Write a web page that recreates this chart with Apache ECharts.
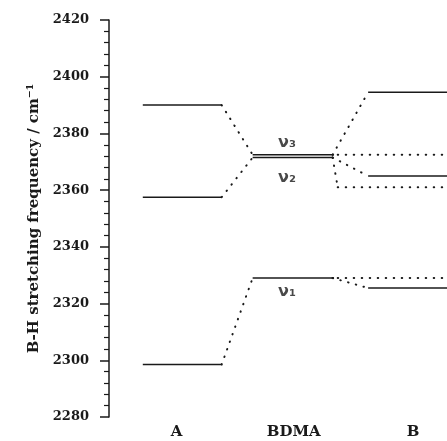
<!DOCTYPE html>
<html>
<head>
<meta charset="utf-8">
<script src="https://cdn.jsdelivr.net/npm/echarts@6/dist/echarts.min.js"></script>
<style>html,body{margin:0;padding:0;background:#fff;}#chart{width:447px;height:441px;}</style>
</head>
<body>
<div id="chart"></div>
<script>
// ---- data ----
const categories = ['A', 'BDMA', 'B'];
const levelsA = [2390, 2357.5, 2298.5];
const levelsBDMA = [2372.5, 2371.5, 2329];   // ν3, ν2, ν1
const modeNames = ['ν₃', 'ν₂', 'ν₁'];
const levelsB = [2394.5, 2365, 2325.5];
const levelsBDotted = [2372.5, 2361, 2329];
const yMin = 2280, yMax = 2420, yStep = 20;

// ---- layout (x in slot units, 0..3) ----
const catLabelPos = [0.6, 1.64, 2.7];
const spanA = [0.30, 1.0];
const spanBDMA = [1.275, 1.985];
const spanB = [2.30, 3.0];
const spanBDot = [2.03, 3.0];
const modeLabelX = 1.58;
const modeLabelOffset = [[0, -12], [0, 20], [0, 14]];

const ink = '#1a1a1a';
const serif = 'DejaVu Serif';
const solid = { color: ink, width: 1.5 };
const dotted = { color: ink, width: 2, type: [0.5, 7.5], cap: 'round' };

const series = [];
function seg(p1, p2, style) {
  series.push({
    type: 'line', data: [p1, p2], showSymbol: false, symbol: 'none',
    lineStyle: style, silent: true, animation: false, z: 2
  });
}
for (let i = 0; i < 3; i++) {
  seg([spanA[0], levelsA[i]], [spanA[1], levelsA[i]], solid);
  seg([spanBDMA[0], levelsBDMA[i]], [spanBDMA[1], levelsBDMA[i]], solid);
  seg([spanB[0], levelsB[i]], [spanB[1], levelsB[i]], solid);
  // connectors
  seg([spanA[1], levelsA[i]], [spanBDMA[0], levelsBDMA[i]], dotted);
  seg([spanBDMA[1], levelsBDMA[i]], [spanB[0], levelsB[i]], dotted);
  seg([spanBDMA[1], levelsBDMA[i]], [spanBDot[0], levelsBDotted[i]], dotted);
  seg([spanBDot[0], levelsBDotted[i]], [spanBDot[1], levelsBDotted[i]], dotted);
}
series.push({
  type: 'scatter', symbolSize: 0, silent: true, animation: false,
  data: levelsBDMA.map((v, i) => ({
    value: [modeLabelX, v],
    label: {
      show: true, position: 'inside', offset: modeLabelOffset[i],
      formatter: modeNames[i], fontFamily: 'DejaVu Sans', fontWeight: 'bold',
      fontSize: 16, color: ink
    }
  }))
});

const chart = echarts.init(document.getElementById('chart'), null, { renderer: 'canvas' });
chart.setOption({
  backgroundColor: '#fff',
  animation: false,
  grid: { left: 109, right: 0, top: 20, bottom: 24, containLabel: false },
  xAxis: {
    type: 'value', min: 0, max: 3,
    axisLine: { show: false }, axisTick: { show: false }, splitLine: { show: false },
    axisLabel: {
      customValues: catLabelPos,
      formatter: v => {
        let best = 0;
        catLabelPos.forEach((p, i) => { if (Math.abs(p - v) < Math.abs(catLabelPos[best] - v)) best = i; });
        return categories[best];
      },
      margin: 8, fontFamily: serif, fontWeight: 'bold', fontSize: 15, color: ink
    }
  },
  yAxis: {
    type: 'value', min: yMin, max: yMax, interval: yStep,
    name: 'B-H stretching frequency / cm⁻¹',
    nameLocation: 'middle', nameGap: 63,
    nameTextStyle: { fontFamily: serif, fontWeight: 'bold', fontSize: 15, color: ink },
    axisLine: { show: true, lineStyle: { color: ink, width: 1.5 } },
    axisTick: { show: true, length: 9, lineStyle: { color: ink, width: 1.5 } },
    minorTick: { show: true, splitNumber: 5, length: 5, lineStyle: { color: ink, width: 1.2 } },
    splitLine: { show: false },
    axisLabel: { margin: 20, formatter: v => String(v), fontFamily: serif, fontWeight: 'bold', fontSize: 13, color: ink }
  },
  series: series
});
</script>
</body>
</html>
